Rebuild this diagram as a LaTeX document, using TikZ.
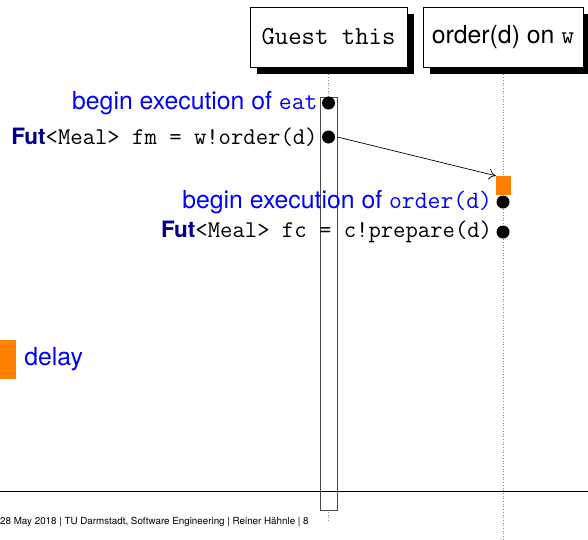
\documentclass[tikz,border=0pt]{standalone}
\usepackage{fontspec}
\setsansfont{TeX Gyre Heros}
\usetikzlibrary{positioning,arrows.meta,shadows}
\definecolor{msgblue}{HTML}{0000FF}
\definecolor{kwnavy}{HTML}{00008C}
\definecolor{waitorange}{HTML}{FF8000}
\definecolor{barline}{HTML}{4A4A4A}

\newcommand{\codefont}{\fontsize{24}{28}\selectfont\ttfamily}
\newcommand{\execfont}{\fontsize{24.8}{30}\selectfont\sffamily}
\newcommand{\kw}[1]{{\fontsize{22.5}{27}\selectfont\sffamily\bfseries\color{kwnavy}#1}}
\newcommand{\ident}[1]{{\fontsize{25}{30}\selectfont\ttfamily #1}}

\begin{document}
\begin{tikzpicture}[x=1pt,y=-1pt,
  objbox/.style={draw=black, fill=white, line width=0.9pt, minimum width=157pt, minimum height=60pt, inner sep=0pt,
    drop shadow={fill=black, opacity=1, shadow xshift=7pt, shadow yshift=-7pt}},
  lifeline/.style={dotted, line width=0.7pt, black!45},
  actbar/.style={draw=barline, fill=white, line width=0.9pt, minimum width=17pt, inner sep=0pt},
  event/.style={circle, fill=black, minimum size=13pt, inner sep=0pt},
  waitbox/.style={fill=waitorange, inner sep=0pt},
  codeline/.style={anchor=east, inner sep=0pt, text=black, font=\codefont},
  execline/.style={anchor=east, inner sep=0pt, text=msgblue, font=\execfont}]
\useasboundingbox (0,0) rectangle (588,539);

% objects
\node[objbox, font=\fontsize{26}{30}\selectfont\ttfamily] (guest) at (328.5,37) {Guest this};
\node[objbox, minimum width=160pt, font=\fontsize{24.8}{30}\selectfont\sffamily] (server) at (503,37) {order(d) on \texttt{w}};

% lifelines
\coordinate (guestend) at (328.5,522);
\coordinate (serverend) at (503,539);
\draw[lifeline] ([yshift=-7pt]guest.south) -- (guestend);
\draw[lifeline] ([yshift=-7pt]server.south) -- (serverend);

% activation of eat
\node[actbar, minimum height=413pt] (eatbar) at (328.5,303.5) {};

% events
\node[event] (eatstart) at (328.5,103) {};
\node[event] (futfm) at (328.5,137) {};
\node[waitbox, minimum width=15pt, minimum height=19pt] (orderwait) at (503.5,185.5) {};
\node[event] (orderstart) at (503,202) {};
\node[event] (futfc) at (503,232) {};

\node[execline] (eatlabel) at ([xshift=-4pt]eatstart.west) {begin execution of \ident{eat}};
\node[codeline] (fmlabel) at ([xshift=-4pt]futfm.west) {\kw{Fut}<Meal> fm = w!order(d)};
\node[execline] (orderlabel) at ([xshift=-4pt]orderstart.west) {begin execution of \ident{order(d)}};
\node[codeline] (fclabel) at ([xshift=-4pt]futfc.west) {\kw{Fut}<Meal> fc = c!prepare(d)};

% async call
\draw[-{To[length=7pt,width=11pt]}, line width=0.7pt] (eatbar.east |- futfm) -- (orderwait.north west);

% legend
\node[waitbox, minimum width=16pt, minimum height=39pt] (delaybox) at (8,359.5) {};
\node[anchor=west, inner sep=0pt, text=msgblue, font=\execfont] (delaylabel) at ([xshift=8pt]delaybox.east) {delay};

% footer
\draw[line width=0.9pt] (0,491) -- (588,491);
\node[anchor=west, inner sep=0pt, font=\fontsize{9.8}{12}\selectfont\sffamily] (footer) at (0,522) {28 May 2018 | TU Darmstadt, Software Engineering | Reiner Hähnle | 8};
\end{tikzpicture}
\end{document}
